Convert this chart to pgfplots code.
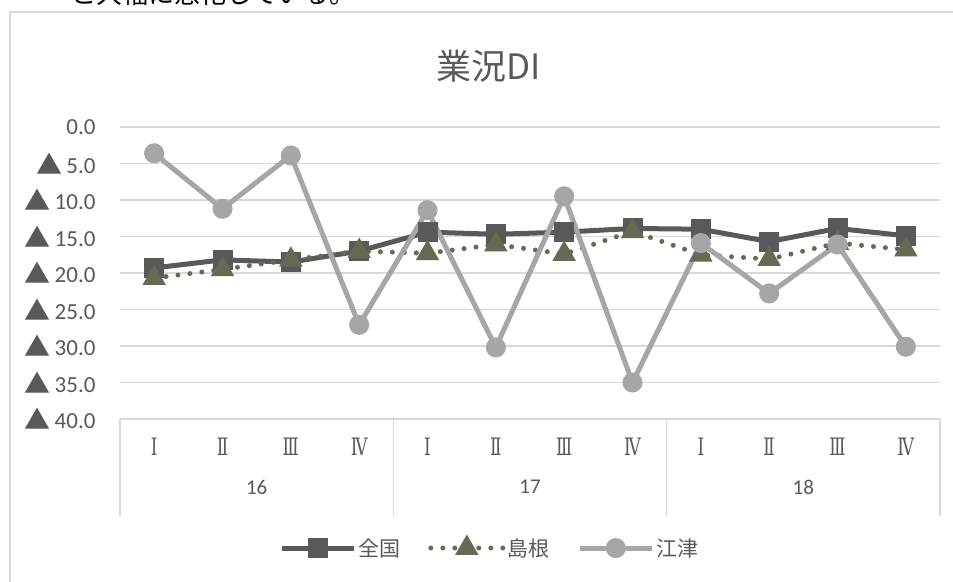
\documentclass[border=0pt]{standalone}
\usepackage{pgfplots}
\pgfplotsset{compat=1.18}
\usepackage{fontspec}
\setmainfont{Carlito}
\newfontfamily\cjk{Noto Sans CJK JP}
\newfontfamily\romfont[FakeStretch=0.7]{DejaVu Serif}
\definecolor{zen}{HTML}{595959}
\definecolor{shi}{HTML}{636B55}
\definecolor{gou}{HTML}{A6A6A6}
\definecolor{grd}{HTML}{D9D9D9}
\definecolor{txt}{HTML}{595959}
\newcommand{\tri}{\raisebox{-1pt}{\cjk\fontsize{26}{26}\selectfont ▲}\hspace{4pt}}
\begin{document}
\begin{tikzpicture}
\useasboundingbox (0pt,0pt) rectangle (953pt,581pt);
\clip (0pt,0pt) rectangle (953pt,581pt);
\fill[white] (0pt,0pt) rectangle (953pt,581pt);
\draw[grd, line width=1.5pt] (10pt,-5pt) -- (10pt,569pt) -- (960pt,569pt);
\node[anchor=base west, inner sep=0pt, font=\cjk\fontsize{26}{30}\selectfont, black] at (70pt,577pt) {と大幅に悪化している。};
\node[font=\cjk\fontsize{35}{40}\selectfont, text=txt] at (489pt,515pt) {業況DI};
\begin{axis}[
  at={(120pt,162pt)}, anchor=south west,
  scale only axis, width=820pt, height=292pt,
  xmin=-0.5, xmax=11.5, ymin=0, ymax=40, y dir=reverse,
  axis line style={draw=none},
  ymajorgrids, grid style={grd, line width=1.5pt},
  major tick length=0pt,
  ytick={0,5,10,15,20,25,30,35,40},
  yticklabels={0.0,\tri 5.0,\tri 10.0,\tri 15.0,\tri 20.0,\tri 25.0,\tri 30.0,\tri 35.0,\tri 40.0},
  y tick label style={font=\fontsize{23}{24}\selectfont, text=txt, anchor=east, xshift=-21pt},
  xtick={0,...,11},
  xticklabels={Ⅰ,Ⅱ,Ⅲ,Ⅳ,Ⅰ,Ⅱ,Ⅲ,Ⅳ,Ⅰ,Ⅱ,Ⅲ,Ⅳ},
  x tick label style={font=\romfont\fontsize{24}{24}\selectfont, text=txt, anchor=center, yshift=-28pt},
  clip=false,
  legend columns=3,
  legend style={draw=none, fill=none, at={(0.451,-0.442)}, anchor=center,
    font=\cjk\fontsize{21}{24}\selectfont, text=txt,
    /tikz/every even column/.append style={column sep=26pt},
    cells={anchor=west}, inner sep=0pt},
  legend image code/.code={\draw[mark repeat=2,mark phase=2,#1] plot coordinates {(0pt,0pt) (36pt,0pt) (72pt,0pt)};},
]
\addplot[zen, line width=5pt, mark=square*, mark size=7.5pt, mark options={solid, fill=zen}] coordinates {
(0,19.3) (1,18.2) (2,18.5) (3,17.0) (4,14.4) (5,14.7) (6,14.4) (7,13.9) (8,14.0) (9,15.7) (10,13.9) (11,14.9)};
\addlegendentry{全国}
\addplot[shi, line width=5pt, line cap=round, dash pattern=on 0pt off 12pt, mark=triangle*, mark size=8.5pt, mark options={solid, fill=shi}] coordinates {
(0,20.7) (1,19.5) (2,18.2) (3,17.0) (4,17.3) (5,16.1) (6,17.4) (7,14.3) (8,17.5) (9,18.1) (10,15.9) (11,16.8)};
\addlegendentry{島根}
\addplot[gou, line width=5pt, mark=*, mark size=7.5pt, mark options={solid, fill=gou}] coordinates {
(0,3.6) (1,11.2) (2,3.9) (3,27.1) (4,11.4) (5,30.2) (6,9.5) (7,35.0) (8,15.9) (9,22.8) (10,16.1) (11,30.1)};
\addlegendentry{江津}
\draw[grd, line width=1.5pt] (axis cs:-0.5,40) -- ++(0pt,-97pt);
\draw[grd, line width=1.5pt] (axis cs:3.5,40) -- ++(0pt,-97pt);
\draw[grd, line width=1.5pt] (axis cs:7.5,40) -- ++(0pt,-97pt);
\draw[grd, line width=1.5pt] (axis cs:11.5,40) -- ++(0pt,-97pt);
\node[font=\fontsize{21}{24}\selectfont, text=txt] at ([yshift=-68pt]axis cs:1.5,40) {16};
\node[font=\fontsize{21}{24}\selectfont, text=txt] at ([yshift=-68pt]axis cs:5.5,40) {17};
\node[font=\fontsize{21}{24}\selectfont, text=txt] at ([yshift=-68pt]axis cs:9.5,40) {18};
\end{axis}
\end{tikzpicture}
\end{document}
